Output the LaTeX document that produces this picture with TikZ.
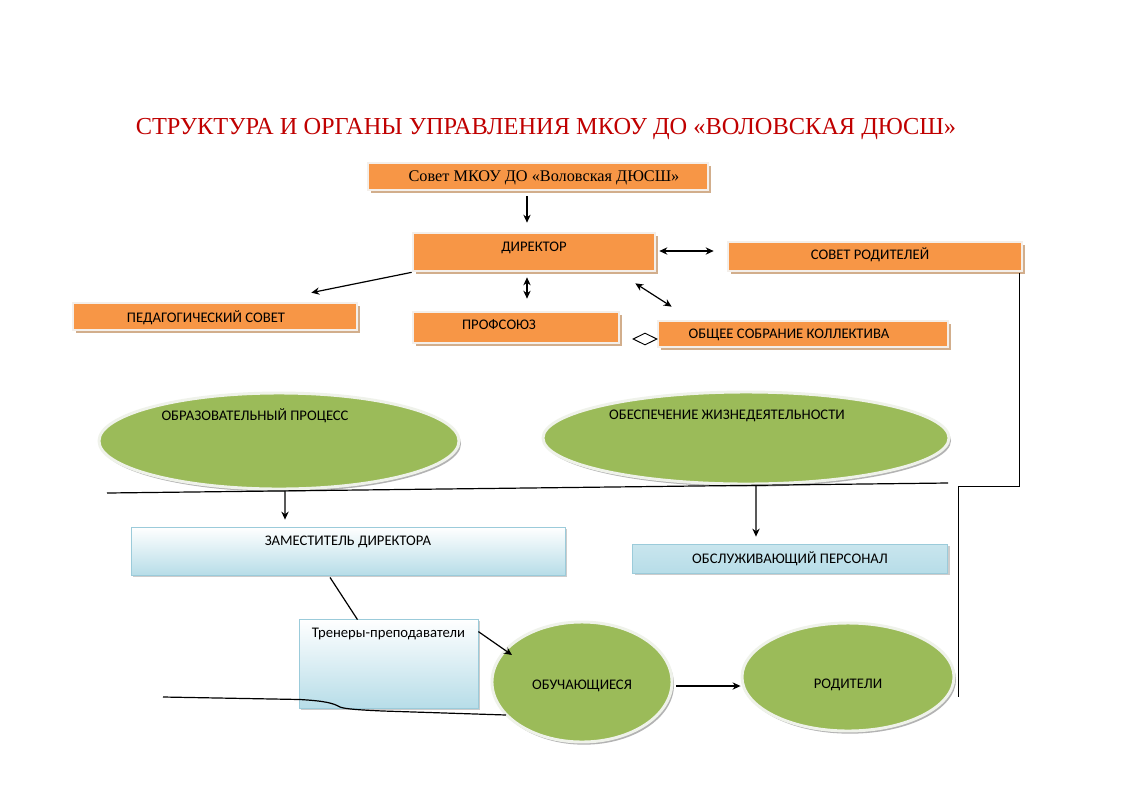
\documentclass[tikz,border=0pt]{standalone}
\usepackage{fontspec}
\setmainfont{Liberation Serif}
\newfontfamily\calfont{Carlito}
\usetikzlibrary{shapes.geometric,shadows,arrows.meta,calc}
\definecolor{orng}{HTML}{F79646}
\definecolor{tanc}{HTML}{D2AE8C}
\definecolor{framec}{HTML}{F4EFEA}
\definecolor{grn}{HTML}{9BBB59}
\definecolor{gframe}{HTML}{EFF2EA}
\definecolor{gshadow}{HTML}{B3B3B3}
\definecolor{blu}{HTML}{B7DDE8}
\definecolor{bluedge}{HTML}{9BCBDA}
\definecolor{ttl}{HTML}{C00000}
\tikzset{
  wh/.style 2 args={minimum width=#1*0.75pt, minimum height=#2*0.75pt},
  obox/.style={rectangle, inner sep=0pt, fill=orng, draw=framec, line width=2pt,
    drop shadow={shadow xshift=2pt, shadow yshift=-2.5pt, fill=tanc, opacity=1}},
  gell/.style={ellipse, inner sep=0pt, fill=grn, draw=gframe, line width=2.2pt,
    drop shadow={shadow xshift=1.5pt, shadow yshift=-2pt, fill=gshadow, opacity=1}},
  bbox/.style={rectangle, inner sep=0pt, top color=white, bottom color=blu, draw=bluedge, line width=0.6pt,
    drop shadow={shadow xshift=1.5pt, shadow yshift=-1.5pt, fill=black!20, opacity=1}},
  lbl/.style={font=\calfont\fontsize{11}{13}\selectfont, inner sep=0pt},
  slbl/.style={font=\fontsize{12.2}{14}\selectfont, inner sep=0pt},
  conn/.style={line width=0.9pt},
  arr/.style={conn, -{Stealth[length=6pt,width=5.5pt]}},
  darr/.style={conn, {Stealth[length=6pt,width=5.5pt]}-{Stealth[length=6pt,width=5.5pt]}},
}
\begin{document}
\begin{tikzpicture}[x=0.75pt,y=-0.75pt]
\useasboundingbox (0,0) rectangle (1122,794);
\fill[white] (0,0) rectangle (1122,794);

% title
\node[anchor=base, inner sep=0pt, text=ttl, font=\fontsize{18.3}{22}\selectfont] (title) at (546,134)
  {СТРУКТУРА И ОРГАНЫ УПРАВЛЕНИЯ МКОУ ДО «ВОЛОВСКАЯ ДЮСШ»};

% orange boxes
\node[obox, wh={340}{27}, label={[slbl, xshift=4.5pt, yshift=-1pt]center:Совет МКОУ ДО «Воловская ДЮСШ»}] (sovet) at (538,176.5) {};
\node[obox, wh={242}{38}, label={[lbl, yshift=3pt]center:ДИРЕКТОР}] (director) at (534,252) {};
\node[obox, wh={294}{29}, label={[lbl, xshift=-3.75pt, yshift=1pt]center:СОВЕТ РОДИТЕЛЕЙ}] (sovetrod) at (875,256.5) {};
\node[obox, wh={284}{27}, label={[lbl, xshift=-6.75pt, yshift=-1pt]center:ПЕДАГОГИЧЕСКИЙ СОВЕТ}] (pedsovet) at (215,316.5) {};
\node[obox, wh={206}{31}, label={[lbl, xshift=-12.75pt, yshift=2pt]center:ПРОФСОЮЗ}] (profsoyuz) at (516,327.5) {};
\node[obox, wh={290}{26}, label={[lbl, xshift=-10.5pt, yshift=-0.75pt]center:ОБЩЕЕ СОБРАНИЕ КОЛЛЕКТИВА}] (obshchee) at (803,334) {};

\node[diamond, draw, fill=white, line width=0.7pt, inner sep=0pt, aspect=2, wh={24}{12}] (dia) at (645,339) {};

% long line
\coordinate (hl) at (107,493);
\coordinate (hr) at (948,483);

% green ellipses
\node[gell, wh={360}{96}, label={[lbl, xshift=-18pt, yshift=18.75pt]center:ОБРАЗОВАТЕЛЬНЫЙ ПРОЦЕСС}] (obrproc) at (279,441) {};
\node[gell, wh={406}{92}, label={[lbl, xshift=-14.25pt, yshift=16.5pt]center:ОБЕСПЕЧЕНИЕ ЖИЗНЕДЕЯТЕЛЬНОСТИ}] (obesp) at (746,438) {};

\draw[conn] (hl) -- (hr);

% blue boxes
\node[bbox, wh={434}{48}, label={[lbl, yshift=6.75pt]center:ЗАМЕСТИТЕЛЬ ДИРЕКТОРА}] (zam) at (348,551) {};
\node[rectangle, inner sep=0pt, top color=blu!75, middle color=blu!15, bottom color=blu, draw=bluedge, line width=0.6pt,
  drop shadow={shadow xshift=1.5pt, shadow yshift=-1.5pt, fill=black!20, opacity=1},
  wh={315}{29}, label={[lbl]center:ОБСЛУЖИВАЮЩИЙ ПЕРСОНАЛ}] (obsl) at (790,558.5) {};
\node[bbox, wh={179}{89}, label={[lbl, yshift=22pt]center:Тренеры-преподаватели}] (treners) at (388.5,663.5) {};

\node[gell, wh={180}{120}, label={[lbl, yshift=-3pt]center:ОБУЧАЮЩИЕСЯ}] (obuch) at (582,682) {};
\node[gell, wh={212}{108}, label={[lbl, yshift=-6pt]center:РОДИТЕЛИ}] (roditeli) at (848,677) {};

% connectors
\draw[arr] ($(sovet.south)+(-11,5)$) -- ($(director.north)+(-7,-9)$);
\draw[darr] ($(director.east)+(3,-1)$) -- ($(sovetrod.west)+(-13,-5.5)$);
\draw[arr] (director.south west) -- ($(pedsovet.north east)+(-47,-9)$);
\draw[darr] ($(director.south)+(-7,5)$) -- ($(profsoyuz.north)+(11,-12)$);
\draw[darr] ($(director.south east)+(-21,11)$) -- ($(obshchee.north west)+(15,-13)$);
\coordinate (rodend) at ($(roditeli.east)+(3,20)$);
\draw[conn] ($(sovetrod.south east)+(-4,1)$) -- ++(0,213) -| (rodend);
\draw[arr] ($(hl)!0.2117!(hr)$) -- ($(zam.north)+(-63,-7)$);
\draw[arr] ($(hl)!0.7717!(hr)$) -- ($(obsl.north)+(-34,-7)$);
\draw[conn] ($(zam.south)+(-18,2)$) -- ($(treners.north)+(-31,1)$);
\draw[arr] ($(treners.north east)+(0,13)$) -- ($(obuch.center)+(-70,-27)$);
\draw[arr] ($(obuch.east)+(3,4)$) -- ($(roditeli.west)+(0,9)$);
\coordinate (cl) at (163,697);
\draw[conn] (cl) -- (300,699.5) .. controls (325,701) and (333,703) .. (340,707)
  .. controls (345,709) and (360,710) .. (383,711) -- ($(obuch.center)+(-76,33)$);
\end{tikzpicture}
\end{document}
